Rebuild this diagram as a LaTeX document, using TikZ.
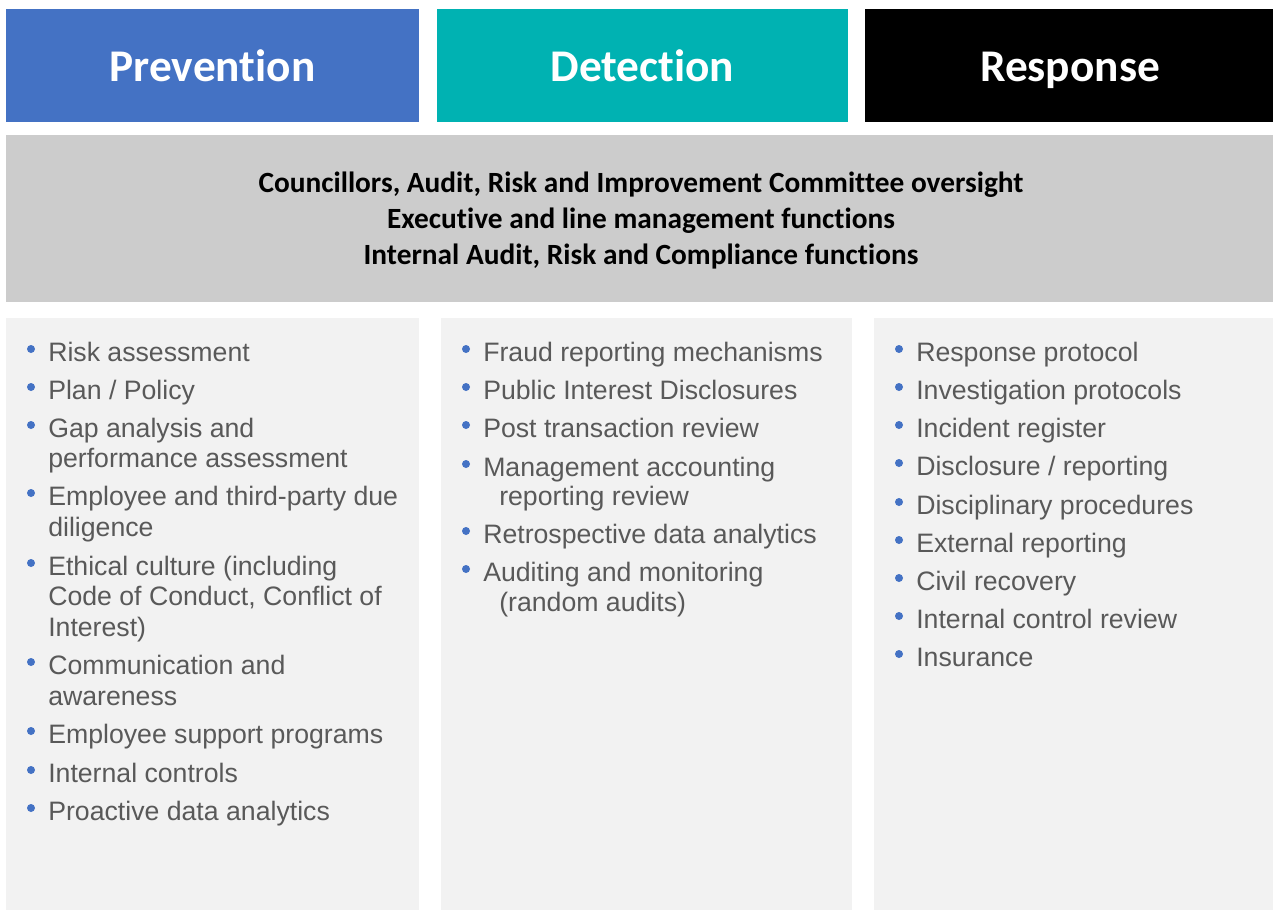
\documentclass[tikz,border=0pt]{standalone}
\usepackage{fontspec}
\setmainfont{Liberation Sans}
\newfontfamily\carl[Ligatures=NoCommon]{Carlito}
\definecolor{prevblue}{HTML}{4472C4}
\definecolor{detteal}{HTML}{00B2B2}
\definecolor{bandgray}{HTML}{CCCCCC}
\definecolor{colgray}{HTML}{F2F2F2}
\definecolor{txtgray}{HTML}{595959}
\tikzset{
  panel/.style={anchor=north west, inner sep=0pt, outer sep=0pt, draw=none},
  headtext/.style={anchor=base, font=\carl\bfseries\fontsize{34}{40}\selectfont, text=white, inner sep=0pt},
  bandtext/.style={anchor=base, font=\carl\bfseries\fontsize{22}{27}\selectfont, text=black, inner sep=0pt},
  itemtext/.style={anchor=base west, font=\fontsize{20}{24}\selectfont, text=txtgray, inner sep=0pt},
  bdot/.style={circle, fill=prevblue, inner sep=0pt, minimum size=6pt},
}
\newcommand{\bitem}[5]{% name, bullet x, text x, baseline y, text
  \node[bdot] (#1d) at (#2,#4-12) {};
  \node[itemtext] (#1) at (#3,#4) {#5};
}
\newcommand{\contline}[4]{% name, x, y, text
  \node[itemtext] (#1) at (#2,#3) {#4};
}
\begin{document}
\begin{tikzpicture}[x=0.75pt,y=-0.75pt]
\useasboundingbox (0,0) rectangle (1273,910);
% headers
\node[panel, fill=prevblue, minimum width=413*0.75pt, minimum height=113*0.75pt] (hprev) at (6,9) {};
\node[panel, fill=detteal, minimum width=411*0.75pt, minimum height=113*0.75pt] (hdet) at (437,9) {};
\node[panel, fill=black, minimum width=408*0.75pt, minimum height=113*0.75pt] (hresp) at (865,9) {};
\node[headtext] (tprev) at (212.5,81) {Prevention};
\node[headtext] (tdet) at (642.5,81) {Detection};
\node[headtext] (tresp) at (1070,81) {Response};
% band
\node[panel, fill=bandgray, minimum width=1267*0.75pt, minimum height=167*0.75pt] (band) at (6,135) {};
\node[bandtext] (bandt1) at (641,192) {Councillors, Audit, Risk and Improvement Committee oversight};
\node[bandtext] (bandt2) at (641,228) {Executive and line management functions};
\node[bandtext] (bandt3) at (641,264) {Internal Audit, Risk and Compliance functions};
% columns
\node[panel, fill=colgray, minimum width=413*0.75pt, minimum height=592*0.75pt] (cprev) at (6,318) {};
\node[panel, fill=colgray, minimum width=411*0.75pt, minimum height=592*0.75pt] (cdet) at (441,318) {};
\node[panel, fill=colgray, minimum width=399*0.75pt, minimum height=592*0.75pt] (cresp) at (874,318) {};
% prevention items
\bitem{p1}{31}{48}{361}{Risk assessment}
\bitem{p2}{31}{48}{399}{Plan / Policy}
\bitem{p3}{31}{48}{437}{Gap analysis and}
\contline{p3b}{48}{467}{performance assessment}
\bitem{p4}{31}{48}{505}{Employee and third-party due}
\contline{p4b}{48}{536}{diligence}
\bitem{p5}{31}{48}{575}{Ethical culture (including}
\contline{p5b}{48}{605}{Code of Conduct, Conflict of}
\contline{p5c}{48}{636}{Interest)}
\bitem{p6}{31}{48}{674}{Communication and}
\contline{p6b}{48}{705}{awareness}
\bitem{p7}{31}{48}{743}{Employee support programs}
\bitem{p8}{31}{48}{782}{Internal controls}
\bitem{p9}{31}{48}{820}{Proactive data analytics}
% detection items
\bitem{d1}{466}{483}{361}{Fraud reporting mechanisms}
\bitem{d2}{466}{483}{399}{Public Interest Disclosures}
\bitem{d3}{466}{483}{437}{Post transaction review}
\bitem{d4}{466}{483}{476}{Management accounting}
\contline{d4b}{499}{505}{reporting review}
\bitem{d5}{466}{483}{543}{Retrospective data analytics}
\bitem{d6}{466}{483}{581}{Auditing and monitoring}
\contline{d6b}{499}{611}{(random audits)}
% response items
\bitem{r1}{899}{916}{361}{Response protocol}
\bitem{r2}{899}{916}{399}{Investigation protocols}
\bitem{r3}{899}{916}{437}{Incident register}
\bitem{r4}{899}{916}{475}{Disclosure / reporting}
\bitem{r5}{899}{916}{514}{Disciplinary procedures}
\bitem{r6}{899}{916}{552}{External reporting}
\bitem{r7}{899}{916}{590}{Civil recovery}
\bitem{r8}{899}{916}{628}{Internal control review}
\bitem{r9}{899}{916}{666}{Insurance}
\end{tikzpicture}
\end{document}
